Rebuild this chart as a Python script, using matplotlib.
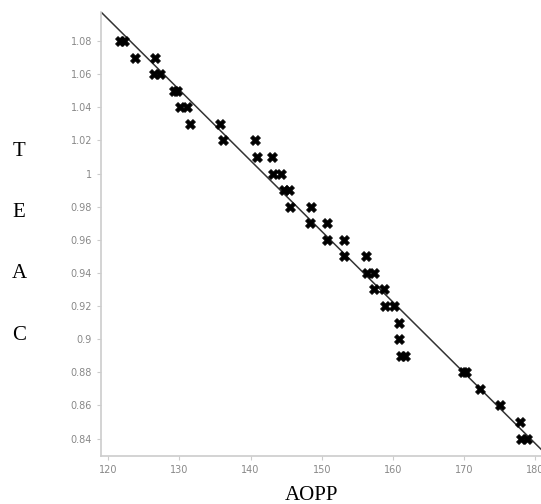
"""TEAC vs AOPP scatter with fitted line"""
import matplotlib
matplotlib.use("Agg")
import matplotlib.pyplot as plt
import numpy as np

# --- data ---
aopp = [121.6, 122.3, 123.8, 126.6, 126.4, 127.3, 129.2, 129.7, 130.1, 131.1,
        131.5, 135.7, 136.1, 140.6, 140.9, 143.0, 143.2, 144.3, 144.7, 145.4,
        145.5, 148.5, 148.4, 150.7, 150.8, 153.1, 153.2, 156.2, 156.4, 157.4,
        157.3, 158.7, 158.9, 160.2, 160.8, 160.8, 161.2, 161.7, 169.8, 170.2,
        172.3, 175.1, 177.8, 178.0, 178.9]
teac = [1.08, 1.08, 1.07, 1.07, 1.06, 1.06, 1.05, 1.05, 1.04, 1.04,
        1.03, 1.03, 1.02, 1.02, 1.01, 1.01, 1.00, 1.00, 0.99, 0.99,
        0.98, 0.98, 0.97, 0.97, 0.96, 0.96, 0.95, 0.95, 0.94, 0.94,
        0.93, 0.93, 0.92, 0.92, 0.91, 0.90, 0.89, 0.89, 0.88, 0.88,
        0.87, 0.86, 0.85, 0.84, 0.84]
line_x = [119.0, 180.8]
line_y = [1.0975, 0.8336]

xticks = [120, 130, 140, 150, 160, 170, 180]
yticks = [0.84, 0.86, 0.88, 0.9, 0.92, 0.94, 0.96, 0.98, 1.0, 1.02, 1.04, 1.06, 1.08]

fig = plt.figure(figsize=(5.41, 5.04), dpi=100)
ax = fig.add_axes([101 / 541, 1 - 456 / 504, 440 / 541, 444 / 504])

ax.plot(line_x, line_y, color="#333333", lw=1.1, zorder=2)
ax.scatter(aopp, teac, marker="X", s=50, color="black", edgecolors="black",
           linewidths=0.6, zorder=3)

ax.set_xlim(119.0, 180.8)
ax.set_ylim(0.8295, 1.0975)
ax.set_xticks(xticks)
ax.set_yticks(yticks)
ax.set_yticklabels([f"{v:g}" for v in yticks])

for s in ["top", "right"]:
    ax.spines[s].set_visible(False)
for s in ["left", "bottom"]:
    ax.spines[s].set_color("#cccccc")
    ax.spines[s].set_linewidth(1.2)
ax.tick_params(colors="#cccccc", labelcolor="#888888", labelsize=7, length=3, width=0.8)

# axis titles (letters stacked on the left, like the original)
serif = ["Liberation Serif", "DejaVu Serif"]
for i, ch in enumerate("TEAC"):
    fig.text(19 / 541, 1 - (151 + i * 61.5) / 504, ch, family=serif, fontsize=15,
             ha="center", va="center")
fig.text(312 / 541, 1 - 495 / 504, "AOPP", family=serif, fontsize=15,
         ha="center", va="center")

plt.savefig("out.png", dpi=100)
